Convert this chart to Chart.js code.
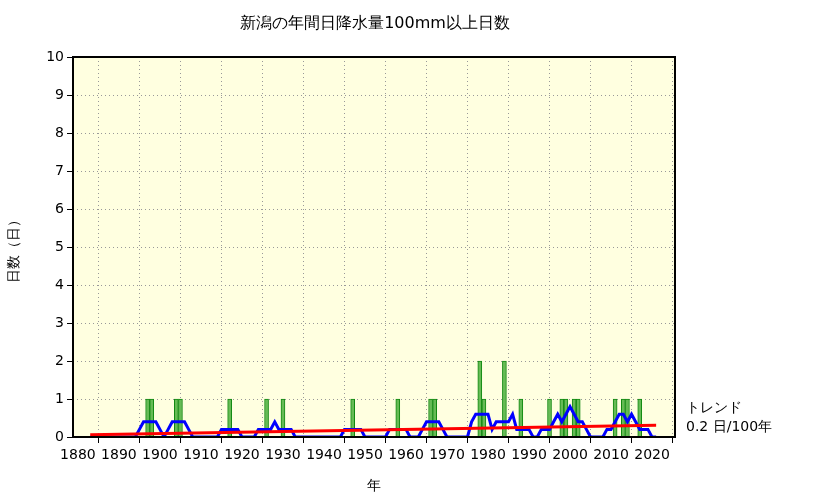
<!DOCTYPE html>
<html><head><meta charset="utf-8">
<script src="https://cdn.jsdelivr.net/npm/chart.js@4"></script>
<style>body{margin:0;background:#fff}#wrap{width:833px;height:498px}</style>
</head><body><div id="wrap"><canvas id="c"></canvas></div>
<script>
const FONT = "'DejaVu Sans', sans-serif";
const firstYear = 1883, lastYear = 2021;
// years with >=100mm days, and count
const eventYears = [1897,1898,1904,1905,1917,1926,1930,1947,1958,1966,1967,1978,1979,1984,1988,1995,1998,1999,2001,2002,2011,2013,2014,2017];
const eventDays  = [1,1,1,1,1,1,1,1,1,1,1,2,1,2,1,1,1,1,1,1,1,1,1,1];

const years = [], days = [];
for (let y = firstYear; y <= lastYear; y++) {
    years.push(y);
    const i = eventYears.indexOf(y);
    days.push(i >= 0 ? eventDays[i] : 0);
}
// 5-year centered moving average
const avg = years.map((y, i) => {
    let s = 0, n = 0;
    for (let k = i - 2; k <= i + 2; k++) if (k >= 0 && k < days.length) { s += days[k]; n++; }
    return { x: y, y: s / n };
});
// linear trend
const n = years.length;
const mx = years.reduce((a, b) => a + b, 0) / n, my = days.reduce((a, b) => a + b, 0) / n;
let sxy = 0, sxx = 0;
years.forEach((y, i) => { sxy += (y - mx) * (days[i] - my); sxx += (y - mx) ** 2; });
const slope = sxy / sxx;
const trend = [firstYear, lastYear].map(y => ({ x: y, y: my + slope * (y - mx) }));

const deco = {
    id: 'deco',
    beforeDraw(c) {
        const { ctx, chartArea: a } = c;
        ctx.save();
        ctx.fillStyle = '#ffffe0';
        ctx.fillRect(a.left, a.top, a.right - a.left, a.bottom - a.top);
        ctx.restore();
    },
    afterDraw(c) {
        const { ctx, chartArea: a } = c;
        ctx.save();
        ctx.strokeStyle = '#000'; ctx.lineWidth = 2;
        ctx.strokeRect(a.left, a.top, a.right - a.left, a.bottom - a.top);
        ctx.fillStyle = '#000';
        ctx.font = '16px ' + FONT;
        ctx.textAlign = 'center';
        ctx.fillText('新潟の年間日降水量100mm以上日数', 375, 28);
        ctx.font = '14px ' + FONT;
        ctx.fillText('年', 374, 490);
        ctx.textAlign = 'left';
        ctx.fillText('トレンド', 686, 412);
        ctx.fillText('0.2 日/100年', 686, 431);
        ctx.translate(18, 248); ctx.rotate(-Math.PI / 2);
        ctx.textAlign = 'center';
        ctx.fillText('日数（日）', 0, 0);
        ctx.restore();
    }
};

new Chart(document.getElementById('c'), {
    type: 'bar',
    data: {
        datasets: [
            { type: 'line', data: trend, borderColor: '#ff0000', borderWidth: 3, pointRadius: 0, order: 0 },
            { type: 'line', data: avg, borderColor: '#0000ff', borderWidth: 3, pointRadius: 0, order: 1 },
            { data: years.map((y, i) => ({ x: y, y: days[i] })), backgroundColor: '#66bb55', borderColor: '#118811', borderWidth: 1, barThickness: 4, order: 2 }
        ]
    },
    options: {
        responsive: true, maintainAspectRatio: false, animation: false,
        layout: { padding: { top: 57, right: 158 } },
        plugins: { legend: { display: false }, tooltip: { enabled: false } },
        scales: {
            x: {
                type: 'linear', min: 1878.8, max: 2025.6, offset: false,
                afterBuildTicks: s => { s.ticks = []; for (let v = 1880; v <= 2020; v += 10) s.ticks.push({ value: v }); },
                afterFit: s => { s.height = 61; },
                grid: { color: '#999', tickLength: 6, tickColor: '#000' },
                border: { display: false, dash: [1, 3] },
                ticks: { color: '#000', font: { family: FONT, size: 14 }, maxRotation: 0, padding: 4, callback: v => String(v) }
            },
            y: {
                min: 0, max: 10,
                afterFit: s => { s.width = 73; },
                grid: { color: '#999', tickLength: 6, tickColor: '#000' },
                border: { display: false, dash: [1, 3] },
                ticks: { stepSize: 1, color: '#000', font: { family: FONT, size: 14 } }
            }
        }
    },
    plugins: [deco]
});
</script></body></html>
